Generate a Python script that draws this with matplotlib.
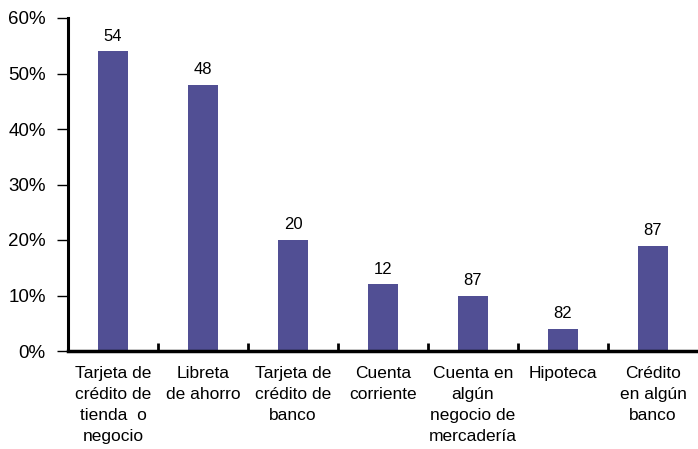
import matplotlib
matplotlib.use('Agg')
import matplotlib.pyplot as plt
import numpy as np

categorias = ["Tarjeta de\ncrédito de\ntienda  o\nnegocio", "Libreta\nde ahorro",
              "Tarjeta de\ncrédito de\nbanco", "Cuenta\ncorriente",
              "Cuenta en\nalgún\nnegocio de\nmercadería", "Hipoteca",
              "Crédito\nen algún\nbanco"]
porcentajes = [54, 48, 20, 12, 10, 4, 19]
etiquetas = ["54", "48", "20", "12", "87", "82", "87"]
yticks = [0, 10, 20, 30, 40, 50, 60]

plt.rcParams['font.family'] = ['Liberation Sans', 'DejaVu Sans']

fig = plt.figure(figsize=(6.98, 4.49), dpi=100)
ax = fig.add_axes([68/698, 98/449, 630/698, 333/449])

x = np.arange(len(categorias))
ax.bar(x, porcentajes, width=30/90, color="#514F94")
for xi, v, t in zip(x, porcentajes, etiquetas):
    ax.text(xi, v + 1.4, t, ha="center", va="bottom", fontsize=12)

ax.set_xlim(-0.5, len(categorias) - 0.5)
ax.set_ylim(0, 60)
ax.set_yticks(yticks)
ax.set_yticklabels([f"{v}%" for v in yticks], fontsize=13.5)
ax.tick_params(axis="y", direction="out", length=8, width=1, pad=8)

ax.set_xticks(x)
ax.set_xticklabels(categorias, fontsize=12.5, linespacing=1.5)
ax.tick_params(axis="x", which="major", length=0, pad=11)
ax.set_xticks(np.arange(0.5, len(categorias) - 1, 1), minor=True)
ax.tick_params(axis="x", which="minor", direction="in", length=6, width=2)

for s in ["top", "right"]:
    ax.spines[s].set_visible(False)
ax.spines["left"].set_linewidth(2.2)
ax.spines["bottom"].set_linewidth(2.5)

fig.savefig("out.png", dpi=100)
